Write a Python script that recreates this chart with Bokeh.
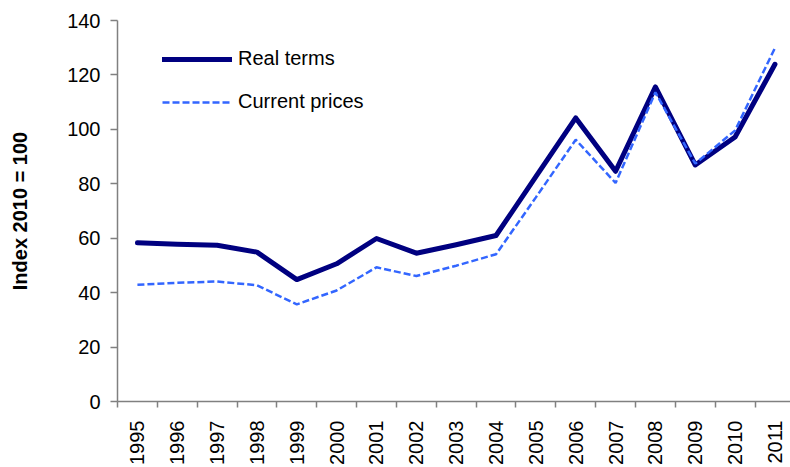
import math
from bokeh.plotting import figure
from bokeh.models import Range1d, FixedTicker, Legend, LegendItem, ColumnDataSource
from bokeh.embed import file_html
from bokeh.resources import INLINE

years = ["1995", "1996", "1997", "1998", "1999", "2000", "2001", "2002", "2003",
         "2004", "2005", "2006", "2007", "2008", "2009", "2010", "2011"]
real_terms = [58.3, 57.8, 57.4, 54.9, 44.8, 50.6, 59.9, 54.5, 57.6,
              61.0, 82.6, 104.2, 84.6, 115.6, 86.9, 97.2, 123.9]
current_prices = [42.9, 43.6, 44.1, 42.7, 35.7, 40.8, 49.3, 46.1, 49.9,
                  54.1, 75.0, 96.2, 80.3, 113.6, 87.4, 99.6, 129.9]
y_ticks = [0, 20, 40, 60, 80, 100, 120, 140]

FONT = "Liberation Sans"
xs = list(range(len(years)))

p = figure(width=790, height=467, output_backend="svg", toolbar_location=None,
           x_range=Range1d(-0.5, len(years) - 0.61), y_range=Range1d(0, 140),
           min_border_left=117, min_border_right=0, min_border_top=20,
           min_border_bottom=62)
p.outline_line_color = None
p.grid.grid_line_color = None
p.background_fill_color = "white"
p.border_fill_color = "white"

src = ColumnDataSource(dict(x=xs, real=real_terms, cur=current_prices))
r1 = p.line("x", "real", source=src, line_color="#000080", line_width=5,
            line_join="round", line_cap="round")
r2 = p.line("x", "cur", source=src, line_color="#3366FF", line_width=2.5,
            line_dash="7 3")

# y axis
ya = p.yaxis[0]
ya.ticker = FixedTicker(ticks=y_ticks)
ya.axis_line_color = "#808080"
ya.axis_line_width = 1.5
ya.major_tick_line_color = "#808080"
ya.major_tick_line_width = 1.5
ya.major_tick_out = 7
ya.major_tick_in = 0
ya.minor_tick_line_color = None
ya.major_label_text_font = FONT
ya.major_label_text_font_size = "20px"
ya.major_label_text_color = "black"
ya.major_label_standoff = 10
ya.axis_label = "Index 2010 = 100"
ya.axis_label_text_font = FONT
ya.axis_label_text_font_style = "bold"
ya.axis_label_text_font_size = "20px"
ya.axis_label_text_color = "black"
ya.axis_label_standoff = 33

# x axis: labels at category centres, ticks at category boundaries
xa = p.xaxis[0]
xa.ticker = FixedTicker(ticks=xs, minor_ticks=[i - 0.5 for i in range(len(years) + 1)])
xa.major_label_overrides = {i: y for i, y in enumerate(years)}
xa.major_label_orientation = math.pi / 2
xa.major_tick_line_color = None
xa.major_tick_out = 0
xa.major_tick_in = 0
xa.minor_tick_line_color = "#808080"
xa.minor_tick_line_width = 1.5
xa.minor_tick_out = 6
xa.minor_tick_in = 0
xa.axis_line_color = "#808080"
xa.axis_line_width = 1.5
xa.major_label_text_font = FONT
xa.major_label_text_font_size = "20px"
xa.major_label_text_color = "black"
xa.major_label_standoff = 13

legend = Legend(items=[LegendItem(label="Real terms", renderers=[r1]),
                       LegendItem(label="Current prices", renderers=[r2])],
                location=(45, 288), orientation="vertical",
                glyph_width=70, glyph_height=22, label_height=22,
                label_standoff=6, spacing=20, padding=0, margin=0,
                border_line_color=None, background_fill_alpha=0,
                label_text_font=FONT, label_text_font_size="20px",
                label_text_color="black")
p.add_layout(legend)

open("out.html", "w").write(file_html(p, INLINE))
